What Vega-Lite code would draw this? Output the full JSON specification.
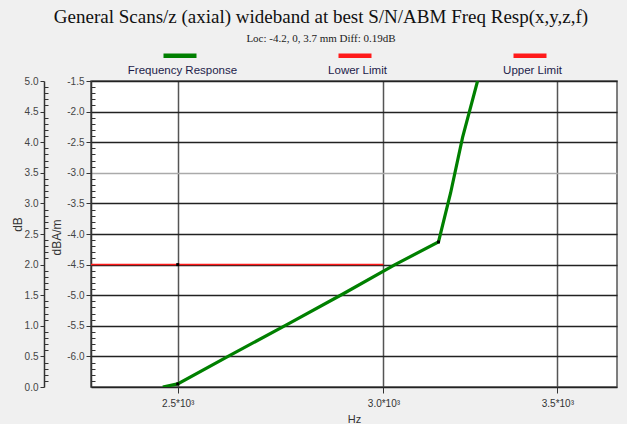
{
  "$schema": "https://vega.github.io/schema/vega-lite/v6.json",
  "autosize": {"type": "none"},
  "width": 526,
  "height": 306,
  "padding": {"left": 91, "top": 81, "right": 10, "bottom": 37},
  "background": "#f0f0f0",
  "title": {
    "text": "General Scans/z (axial) wideband at best S/N/ABM Freq Resp(x,y,z,f)",
    "subtitle": "Loc: -4.2, 0, 3.7 mm Diff: 0.19dB",
    "font": "Liberation Serif",
    "fontSize": 19,
    "fontWeight": "normal",
    "color": "#111111",
    "subtitleFont": "Liberation Serif",
    "subtitleFontSize": 11,
    "subtitleColor": "#222222",
    "subtitlePadding": 6,
    "anchor": "middle",
    "dx": -33,
    "offset": 2
  },
  "datasets": {
    "fr": [
      {"hz": 2467, "db": 0.0, "series": "Frequency Response"},
      {"hz": 2500, "db": 0.05, "series": "Frequency Response"},
      {"hz": 2614, "db": 0.5, "series": "Frequency Response"},
      {"hz": 2754, "db": 1.02, "series": "Frequency Response"},
      {"hz": 2894, "db": 1.52, "series": "Frequency Response"},
      {"hz": 3031, "db": 2.0, "series": "Frequency Response"},
      {"hz": 3150, "db": 2.37, "series": "Frequency Response"},
      {"hz": 3184, "db": 3.17, "series": "Frequency Response"},
      {"hz": 3218, "db": 4.08, "series": "Frequency Response"},
      {"hz": 3261, "db": 5.0, "series": "Frequency Response"}
    ],
    "lower": [
      {"hz": 2315, "db": 2.0, "series": "Lower Limit"},
      {"hz": 3000, "db": 2.0, "series": "Lower Limit"}
    ],
    "upper": [],
    "dots": [
      {"hz": 2500, "db": 0.05},
      {"hz": 3150, "db": 2.37},
      {"hz": 2500, "db": 2.0}
    ]
  },
  "layer": [
    {
      "data": {"name": "fr"},
      "mark": {"type": "line", "strokeWidth": 3.2, "clip": true},
      "encoding": {
        "x": {
          "field": "hz", "type": "quantitative",
          "scale": {"type": "log", "domain": [2315, 3690], "nice": false, "zero": false},
          "axis": {
            "values": [2500, 3000, 3500],
            "labelExpr": "format(datum.value/1000, '.1f') + '*10³'",
            "title": "Hz",
            "titleFontSize": 11,
            "titlePadding": 5,
            "grid": true,
            "gridColor": "#555555",
            "gridWidth": 1.5,
            "tickSize": 6,
            "labelPadding": 5,
            "labelColor": "#333333",
            "domain": false
          }
        },
        "y": {
          "field": "db", "type": "quantitative",
          "scale": {"domain": [0, 5], "nice": false, "zero": false},
          "axis": {
            "orient": "left",
            "offset": 47,
            "values": [0, 0.5, 1, 1.5, 2, 2.5, 3, 3.5, 4, 4.5, 5],
            "format": ".1f",
            "title": "dB",
            "titlePadding": 0,
            "titleY": 143,
            "tickSize": 4,
            "labelPadding": 2,
            "grid": true,
            "gridWidth": 1.5,
            "gridColor": {"condition": {"test": "datum.value == 3.5", "value": "#aaaaaa"}, "value": "#222222"}
          }
        },
        "color": {
          "field": "series", "type": "nominal",
          "scale": {"domain": ["Frequency Response", "Lower Limit", "Upper Limit"], "range": ["#008000", "#ff1a1a", "#ff1a1a"]},
          "legend": {
            "title": null,
            "orient": "none",
            "legendX": 70,
            "legendY": -35,
            "direction": "horizontal",
            "columns": 3,
            "gridAlign": "all",
            "columnPadding": 90,
            "padding": 0,
            "symbolType": "M-1,-0.58L1,-0.58",
            "symbolSize": 1089,
            "symbolStrokeWidth": 4.5,
            "labelAlign": "center",
            "labelBaseline": "top",
            "labelOffset": -16.5,
            "labelFont": "Liberation Sans",
            "labelFontSize": 11.5,
            "labelColor": "#1c1c4a",
            "labelLimit": 300,
            "labelExpr": "datum.label == 'Frequency Response' ? datum.label : pad(datum.label, 27, ' ', 'center')"
          }
        }
      }
    },
    {
      "data": {"name": "lower"},
      "mark": {"type": "line", "strokeWidth": 1.5, "clip": true},
      "encoding": {
        "x": {"field": "hz", "type": "quantitative"},
        "y": {
          "field": "db", "type": "quantitative",
          "axis": {
            "orient": "left",
            "offset": 0,
            "values": [0.5, 1, 1.5, 2, 2.5, 3, 3.5, 4, 4.5, 5],
            "labelExpr": "(datum.value - 6.5 < 0 ? '-' : '') + format(abs(datum.value - 6.5), '.1f')",
            "title": "dBA/m",
            "titlePadding": 3,
            "titleY": 156,
            "tickSize": 5,
            "labelPadding": 2,
            "grid": false
          }
        },
        "color": {"field": "series", "type": "nominal"}
      }
    },
    {
      "data": {"name": "dots"},
      "mark": {"type": "square", "size": 9, "color": "black", "opacity": 1},
      "encoding": {
        "x": {"field": "hz", "type": "quantitative"},
        "y": {
          "field": "db", "type": "quantitative",
          "axis": {
            "orient": "left",
            "offset": 47,
            "values": [0.1,0.2,0.3,0.4,0.6,0.7,0.8,0.9,1.1,1.2,1.3,1.4,1.6,1.7,1.8,1.9,2.1,2.2,2.3,2.4,2.6,2.7,2.8,2.9,3.1,3.2,3.3,3.4,3.6,3.7,3.8,3.9,4.1,4.2,4.3,4.4,4.6,4.7,4.8,4.9],
            "labels": false,
            "domain": false,
            "grid": false,
            "title": null,
            "tickSize": -4
          }
        }
      }
    },
    {
      "data": {"name": "upper"},
      "mark": {"type": "line", "strokeWidth": 1.5, "clip": true},
      "encoding": {
        "x": {"field": "hz", "type": "quantitative"},
        "y": {
          "field": "db", "type": "quantitative",
          "axis": {
            "orient": "left",
            "offset": 0,
            "values": [0.1,0.2,0.3,0.4,0.6,0.7,0.8,0.9,1.1,1.2,1.3,1.4,1.6,1.7,1.8,1.9,2.1,2.2,2.3,2.4,2.6,2.7,2.8,2.9,3.1,3.2,3.3,3.4,3.6,3.7,3.8,3.9,4.1,4.2,4.3,4.4,4.6,4.7,4.8,4.9],
            "labels": false,
            "domain": false,
            "grid": false,
            "title": null,
            "tickSize": -4
          }
        },
        "color": {"field": "series", "type": "nominal"}
      }
    }
  ],
  "resolve": {"axis": {"y": "independent"}},
  "config": {
    "view": {"fill": "white", "stroke": "#555555", "strokeWidth": 1.5},
    "axis": {
      "labelFont": "Liberation Sans",
      "titleFont": "Liberation Sans",
      "labelFontSize": 10,
      "titleFontSize": 12,
      "titleFontWeight": "normal",
      "labelColor": "#444444",
      "titleColor": "#333333",
      "tickColor": "#333333",
      "domainColor": "#333333",
      "domainWidth": 1.5
    }
  }
}
